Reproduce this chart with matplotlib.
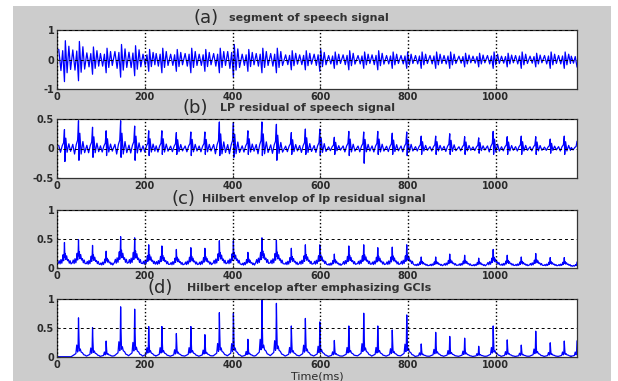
import numpy as np
import matplotlib
matplotlib.use('Agg')
import matplotlib.pyplot as plt
from matplotlib.patches import Rectangle

plt.rcParams['axes.unicode_minus'] = False
plt.rcParams['font.family'] = 'DejaVu Sans'

gci_ms = [17, 49, 81, 112, 145, 177, 209, 239, 272, 305, 337, 370, 402, 435,
          467, 500, 534, 566, 599, 632, 665, 699, 731, 764, 797, 830, 863,
          895, 929, 961, 994, 1026, 1058, 1091, 1124, 1156, 1185]

# (a) speech amplitude per pitch period
speech_amp = [0.75, 0.72, 0.5, 0.45, 0.6, 0.55, 0.4, 0.45, 0.4, 0.45, 0.4,
              0.45, 0.6, 0.4, 0.45, 0.45, 0.35, 0.35, 0.4, 0.3, 0.35, 0.3,
              0.35, 0.3, 0.3, 0.3, 0.3, 0.3, 0.25, 0.25, 0.3, 0.25, 0.3,
              0.25, 0.3, 0.3, 0.25]
# (b) LP residual: positive peak and the dip right after it
lp_peak = [0.32, 0.47, 0.36, 0.30, 0.47, 0.38, 0.30, 0.30, 0.27, 0.28, 0.28,
           0.45, 0.44, 0.30, 0.45, 0.41, 0.27, 0.33, 0.33, 0.19, 0.29, 0.28,
           0.29, 0.26, 0.28, 0.21, 0.21, 0.25, 0.20, 0.18, 0.29, 0.20, 0.21,
           0.20, 0.16, 0.21, 0.12]
lp_dip = [-0.22, -0.2, -0.15, -0.12, -0.15, -0.2, -0.12, -0.1, -0.1, -0.12,
          -0.1, -0.12, -0.15, -0.1, -0.12, -0.2, -0.1, -0.1, -0.12, -0.1,
          -0.12, -0.25, -0.1, -0.1, -0.12, -0.1, -0.1, -0.1, -0.1, -0.08,
          -0.1, -0.1, -0.1, -0.1, -0.08, -0.1, -0.08]
# (c) Hilbert envelope peaks
hilb_peak = [0.42, 0.47, 0.37, 0.27, 0.52, 0.50, 0.38, 0.36, 0.30, 0.33, 0.32,
             0.45, 0.45, 0.25, 0.50, 0.46, 0.32, 0.38, 0.38, 0.22, 0.36, 0.38,
             0.33, 0.34, 0.38, 0.17, 0.17, 0.22, 0.20, 0.15, 0.30, 0.20, 0.17,
             0.23, 0.16, 0.16, 0.08]
# (d) envelope after emphasizing GCIs
emph_peak = [0.0, 0.67, 0.50, 0.27, 0.86, 0.82, 0.52, 0.52, 0.40, 0.52, 0.38,
             0.76, 0.75, 0.30, 1.00, 0.92, 0.53, 0.66, 0.60, 0.28, 0.53, 0.75,
             0.53, 0.46, 0.72, 0.22, 0.42, 0.35, 0.32, 0.18, 0.53, 0.29, 0.20,
             0.44, 0.24, 0.27, 0.27]

# one pitch period of each trace: offset from the GCI (ms) and relative height
off_a = [-13, -8, -4, 0, 2, 6, 10, 14]
shp_a = [0.45, -0.5, 0.4, -1.0, 0.85, -0.6, 0.6, -0.45]
off_b = [-13, -9, -5, -2, 0, 1, 3, 6, 10, 14]
shp_b = [0.15, -0.2, 0.15, 0.3, 1.0, 0.0, 0.55, -0.2, 0.25, -0.15]
dip_b = [0, 0, 0, 0, 0, 1, 0, 0, 0, 0]
off_c = [-14, -12, -10, -8, -6, -4, -3, -2, -1, 0, 1, 2, 3, 5, 7, 9, 11, 13,
         15]
shp_c = [0.15, 0.25, 0.12, 0.3, 0.15, 0.35, 0.5, 0.25, 0.4, 1.0, 0.4, 0.55,
         0.3, 0.45, 0.25, 0.3, 0.15, 0.25, 0.12]
off_d = [-14, -10, -6, -4, -2, -1, 0, 1, 2, 4, 6, 9, 12, 15]
shp_d = [0.02, 0.05, 0.08, 0.3, 0.12, 0.25, 1.0, 0.5, 0.15, 0.2, 0.12, 0.1,
         0.05, 0.04]

XMAX = 1185


def trace(amps, offs, shape, base=0.0, dips=None, dip_shape=None):
    xs, ys = [], []
    for k, t in enumerate(gci_ms):
        for j, o in enumerate(offs):
            y = base + amps[k] * shape[j]
            if dips is not None:
                y += dips[k] * dip_shape[j]
            xs.append(t + o)
            ys.append(y)
    xs, ys = np.array(xs, float), np.array(ys, float)
    keep = (xs >= 0) & (xs <= XMAX)
    return xs[keep], ys[keep]


W, H = 618, 381
fig = plt.figure(figsize=(W / 100, H / 100), dpi=100)
fig.patch.set_facecolor('white')
fig.patches.append(Rectangle((13 / W, 0), (611 - 13) / W, 1 - 6 / H,
                             transform=fig.transFigure, facecolor='#cccccc',
                             edgecolor='none', zorder=-10))

panels = [
    ('(a)', 'segment of speech signal', 30, 89, (-1, 1), [-1, 0, 1], ['-1', '0', '1'],
     trace(speech_amp, off_a, shp_a), 206, 229, 18),
    ('(b)', 'LP residual of speech signal', 119, 178, (-0.5, 0.5), [-0.5, 0, 0.5],
     ['-0.5', '0', '0.5'], trace(lp_peak, off_b, shp_b, dips=lp_dip, dip_shape=dip_b),
     195, 220, 108),
    ('(c)', 'Hilbert envelop of lp residual signal', 210, 268, (0, 1), [0, 0.5, 1],
     ['0', '0.5', '1'], trace(hilb_peak, off_c, shp_c, base=0.02), 183, 202, 199),
    ('(d)', 'Hilbert encelop after emphasizing GCIs', 299, 357, (0, 1), [0, 0.5, 1],
     ['0', '0.5', '1'], trace(emph_peak, off_d, shp_d, base=0.005), 160, 187, 288),
]

txt_col = '#2a2a2a'
for tag, title, top, bot, ylim, yt, ytl, (xs, ys), xtag, xtxt, ytitle in panels:
    ax = fig.add_axes([57 / W, 1 - bot / H, 520 / W, (bot - top) / H])
    ax.set_facecolor('white')
    ax.plot(xs, ys, color='#0000ff', lw=0.9)
    ax.set_xlim(0, XMAX)
    ax.set_ylim(*ylim)
    ax.set_xticks([0, 200, 400, 600, 800, 1000])
    ax.set_yticks(yt)
    ax.set_yticklabels(ytl)
    ax.set_axisbelow(False)
    ax.grid(axis='x', color='k', ls=':', lw=1.0)
    ax.grid(axis='y', color='k', ls=(0, (3, 3)), lw=0.7)
    ax.tick_params(direction='in', length=2, labelsize=7, pad=2, colors=txt_col)
    for lbl in ax.get_xticklabels() + ax.get_yticklabels():
        lbl.set_fontweight('bold')
    for sp in ax.spines.values():
        sp.set_color('#333333')
        sp.set_linewidth(0.9)
    fig.text(xtag / W, 1 - (ytitle + 5) / H, tag, fontsize=13, ha='center',
             va='baseline', color=txt_col)
    fig.text(xtxt / W, 1 - (ytitle + 3) / H, title, fontsize=8, fontweight='bold',
             ha='left', va='baseline', color='#333333')
    last = ax

last.set_xlabel('Time(ms)', fontsize=8, color=txt_col, labelpad=1)

fig.savefig('out.png', dpi=100, facecolor=fig.get_facecolor())
